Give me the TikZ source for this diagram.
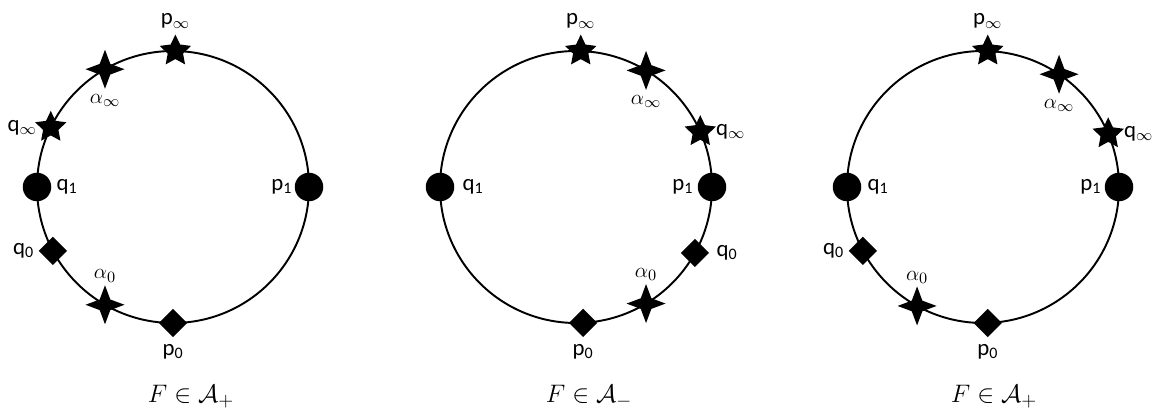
\documentclass[tikz,border=0pt]{standalone}
\usepackage{fontspec}
\setsansfont{Carlito}
\usetikzlibrary{shapes.geometric,positioning}
\tikzset{
  rim/.style={draw=black, line width=1.1pt},                                  % the circle
  dotm/.style={circle, fill=black, minimum size=5.7mm, inner sep=0pt},        % p_1, q_1
  dmd/.style={diamond, fill=black, minimum size=5.7mm, inner sep=0pt},        % p_0, q_0
  strf/.style={star, star points=5, star point ratio=2.05, fill=black,
               minimum size=6.6mm, inner sep=0pt},                            % p_inf, q_inf
  spk/.style={star, star points=4, star point ratio=2.6, fill=black,
              minimum size=7.8mm, inner sep=0pt},                             % alpha marks
  lbl/.style={font=\sffamily\fontsize{13}{15}\selectfont, inner sep=1pt},
  captxt/.style={font=\fontsize{15.5}{18}\selectfont, inner sep=1pt},
}
\def\R{2.72}

\begin{document}
\begin{tikzpicture}
  \useasboundingbox (0,0) rectangle (23.1,8.32);
  % first circle
  \begin{scope}[shift={(3.46,4.58)}]
    \draw[rim] (0,0) circle (\R);
    \foreach \n/\a/\s in {pinfA/89/strf, ainfA/120/spk, qinfA/154/strf, qoneA/180/dotm,
                          qzeroA/208/dmd, azeroA/240/spk, pzeroA/270/dmd, poneA/0/dotm}
      \node[\s] (\n) at (\a:\R) {};
    \node[lbl, above=0.6mm of pinfA]  (lpinfA)  {p$_\infty$};
    \node[lbl, below=0.5mm of ainfA]  (lainfA)  {$\alpha_\infty$};
    \node[lbl, left=0.2mm of qinfA]   (lqinfA)  {q$_\infty$};
    \node[lbl, right=0.6mm of qoneA]  (lqoneA)  {q\textsubscript{1}};
    \node[lbl, left=0mm of poneA]     (lponeA)  {p\textsubscript{1}};
    \node[lbl, left=0.4mm of qzeroA]  (lqzeroA) {q\textsubscript{0}};
    \node[lbl, above=0mm of azeroA]   (lazeroA) {$\alpha_0$};
    \node[lbl, below=1mm of pzeroA]   (lpzeroA) {p\textsubscript{0}};
  \end{scope}
  % second circle
  \begin{scope}[shift={(11.52,4.58)}]
    \draw[rim] (0,0) circle (\R);
    \foreach \n/\a/\s in {pinfB/88/strf, ainfB/59/spk, qinfB/24/strf, qoneB/180/dotm,
                          qzeroB/-29/dmd, azeroB/-59/spk, pzeroB/-87/dmd, poneB/0/dotm}
      \node[\s] (\n) at (\a:\R) {};
    \node[lbl, above=0.6mm of pinfB]  (lpinfB)  {p$_\infty$};
    \node[lbl, below=0.5mm of ainfB]  (lainfB)  {$\alpha_\infty$};
    \node[lbl, right=0.6mm of qinfB]  (lqinfB)  {q$_\infty$};
    \node[lbl, right=1.2mm of qoneB]  (lqoneB)  {q\textsubscript{1}};
    \node[lbl, left=0.4mm of poneB]   (lponeB)  {p\textsubscript{1}};
    \node[lbl, right=1mm of qzeroB]   (lqzeroB) {q\textsubscript{0}};
    \node[lbl, above=0mm of azeroB]   (lazeroB) {$\alpha_0$};
    \node[lbl, below=1mm of pzeroB]   (lpzeroB) {p\textsubscript{0}};
  \end{scope}
  % third circle
  \begin{scope}[shift={(19.66,4.58)}]
    \draw[rim] (0,0) circle (\R);
    \foreach \n/\a/\s in {pinfC/88/strf, ainfC/56/spk, qinfC/23/strf, qoneC/180/dotm,
                          qzeroC/208/dmd, azeroC/241/spk, pzeroC/-88/dmd, poneC/0/dotm}
      \node[\s] (\n) at (\a:\R) {};
    \node[lbl, above=0.6mm of pinfC]  (lpinfC)  {p$_\infty$};
    \node[lbl, below=0.5mm of ainfC]  (lainfC)  {$\alpha_\infty$};
    \node[lbl, right=0.6mm of qinfC]  (lqinfC)  {q$_\infty$};
    \node[lbl, right=0.8mm of qoneC]  (lqoneC)  {q\textsubscript{1}};
    \node[lbl, left=0.2mm of poneC]   (lponeC)  {p\textsubscript{1}};
    \node[lbl, left=0.4mm of qzeroC]  (lqzeroC) {q\textsubscript{0}};
    \node[lbl, above=0mm of azeroC]   (lazeroC) {$\alpha_0$};
    \node[lbl, below=1mm of pzeroC]   (lpzeroC) {p\textsubscript{0}};
  \end{scope}
  % captions
  \node[captxt] (capA) at (3.82,0.38)  {$F\in\mathcal{A}_+$};
  \node[captxt] (capB) at (11.78,0.38) {$F\in\mathcal{A}_-$};
  \node[captxt] (capC) at (19.88,0.38) {$F\in\mathcal{A}_+$};
\end{tikzpicture}
\end{document}
